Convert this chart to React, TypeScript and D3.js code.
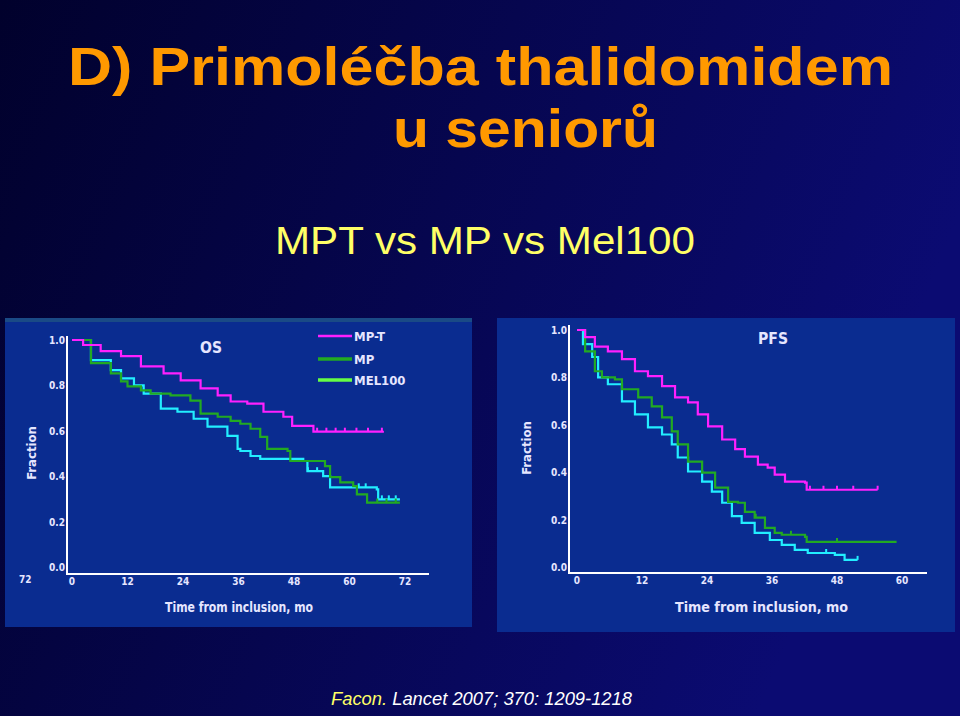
import React from "react";
import * as d3 from "d3";

// ---------- data (months, survival fraction) ----------
const osMonthsTicks = [0, 12, 24, 36, 48, 60, 72];
const pfsMonthsTicks = [0, 12, 24, 36, 48, 60];
const fractionTicks = [1.0, 0.8, 0.6, 0.4, 0.2, 0.0];

const osMPT: [number, number][] = [
  [0, 1.0], [2.4, 0.978], [6.2, 0.951], [10.6, 0.929], [14.9, 0.884], [19.8, 0.853],
  [23.5, 0.822], [27.8, 0.787], [31.5, 0.756], [34.3, 0.729], [37.9, 0.72], [41.4, 0.684],
  [45.7, 0.662], [47.6, 0.622], [52.2, 0.596], [67.2, 0.6],
];
const osMP: [number, number][] = [
  [0, 1.0], [4.1, 0.898], [8.4, 0.853], [10.6, 0.818], [12, 0.796], [14.9, 0.778],
  [17, 0.764], [21.3, 0.756], [25.6, 0.733], [27.8, 0.676], [31.5, 0.662], [34.3, 0.644],
  [36.4, 0.631], [38.6, 0.609], [40.7, 0.573], [42.2, 0.52], [46.6, 0.511], [47.2, 0.467],
  [54.7, 0.444], [55.8, 0.396], [58, 0.373], [60.8, 0.356], [61.6, 0.32], [63.8, 0.284],
  [70.9, 0.284],
];
const osMEL: [number, number][] = [
  [0, 1.0], [4.1, 0.911], [8.4, 0.867], [10.6, 0.831], [13.4, 0.8], [15.5, 0.764],
  [19.2, 0.698], [22.8, 0.684], [26.3, 0.653], [29.3, 0.618], [33.6, 0.578], [35.8, 0.52],
  [36.4, 0.511], [38.6, 0.489], [40.7, 0.476], [50, 0.467], [50.9, 0.422], [54.3, 0.4],
  [55.8, 0.351], [65.9, 0.342], [66.2, 0.298], [70.9, 0.298],
];

const pfsMPT: [number, number][] = [
  [0, 1.0], [1.5, 0.97], [3.3, 0.93], [5.7, 0.91], [8.3, 0.877], [10.7, 0.826],
  [13.1, 0.805], [15.7, 0.763], [18.1, 0.716], [20.5, 0.695], [22.3, 0.644], [24.2, 0.593],
  [26.8, 0.538], [29.2, 0.497], [31, 0.466], [33.4, 0.432], [35.2, 0.419], [36.5, 0.39],
  [38.4, 0.36], [42.1, 0.356], [42.4, 0.326], [55.5, 0.326],
];
const pfsMP: [number, number][] = [
  [0, 1.0], [1.5, 0.91], [3.3, 0.826], [4.6, 0.8], [7, 0.792], [8.3, 0.75],
  [11.3, 0.716], [13.8, 0.678], [15.7, 0.631], [17.5, 0.572], [18.6, 0.517], [20.5, 0.445],
  [23.1, 0.398], [25.5, 0.335], [27.9, 0.275], [29.7, 0.271], [31, 0.233], [32.8, 0.208],
  [34.7, 0.165], [36.5, 0.144], [37.8, 0.136], [42.1, 0.127], [42.4, 0.106], [59, 0.106],
];
const pfsMEL: [number, number][] = [
  [0, 1.0], [1.1, 0.94], [2.8, 0.886], [3.9, 0.8], [5.7, 0.771], [8.3, 0.699],
  [10.7, 0.644], [13.1, 0.589], [15.7, 0.559], [17.5, 0.517], [18.6, 0.462], [20.5, 0.403],
  [23.1, 0.36], [24.9, 0.318], [26.8, 0.271], [28.6, 0.215], [30.4, 0.186], [32.8, 0.144],
  [35.6, 0.114], [37.8, 0.093], [40.2, 0.072], [42.6, 0.059], [47.6, 0.051], [49.4, 0.03],
  [51.8, 0.03],
];

// censoring marks (months)
const osMPTCens = [53, 55, 57, 59, 61.5, 64, 67];
const osMPCens = [66, 68, 70];
const osMELCens = [51, 53, 62, 63.5, 67, 68.5, 70];
const pfsMPTCens = [43, 45.5, 48, 51, 55.5];
const pfsMPCens = [33, 39.5, 48];
const pfsMELCens = [46, 51.8];

const legendLabels = ["MP-T", "MP", "MEL100"];

// ---------- styles ----------
const C_MPT = "#ff20ff";
const C_MP = "#22aa22";
const C_MEL = "#22eeff";
const LEGEND_COLORS = [C_MPT, C_MP, "#66ff44"];
const PANEL = "#0a2c90";
const AX = "#ffffff";
const LBL = "#e6e6ff";
const SANS = "'Liberation Sans', Arial, sans-serif";
const COND = "'DejaVu Sans Condensed', 'Liberation Sans Narrow', sans-serif";

type Panel = {
  x0: number; x1: number; axisX: number; axisTop: number; axisY: number; axisRight: number;
  y1: number; y0: number; dom: number; ticks: number[];
};

function stepValue(data: [number, number][], t: number) {
  let v = data[0][1];
  for (const d of data) if (d[0] <= t) v = d[1];
  return v;
}

function KMPlot({ p, series, title, titleX, titleBase, titleW, xTitleX, xTitleW, fracX, fracY }: any) {
  const x = d3.scaleLinear().domain([0, p.dom]).range([p.x0, p.x1]);
  const y = d3.scaleLinear().domain([0, 1]).range([p.y0, p.y1]);
  const line = d3.line<[number, number]>().x((d) => x(d[0])).y((d) => y(d[1])).curve(d3.curveStepAfter);
  return (
    <g>
      <line x1={p.axisX} x2={p.axisX} y1={p.axisTop} y2={p.axisY + 1} stroke={AX} strokeWidth={2} />
      <line x1={p.axisX} x2={p.axisRight} y1={p.axisY} y2={p.axisY} stroke={AX} strokeWidth={2} />
      {fractionTicks.map((t) => (
        <text key={t} x={p.axisX - 2} y={y(t) + 4} fill={LBL} fontSize={10} fontWeight="bold"
          fontFamily={COND} textAnchor="end">{t.toFixed(1)}</text>
      ))}
      {p.ticks.map((t: number) => (
        <text key={t} x={x(t)} y={p.axisY + 11} fill={LBL} fontSize={10} fontWeight="bold"
          fontFamily={COND} textAnchor="middle">{t}</text>
      ))}
      <text x={fracX} y={fracY} fill={LBL} fontSize={13} fontWeight="bold" fontFamily={COND}
        textAnchor="middle" transform={`rotate(-90 ${fracX} ${fracY})`}>Fraction</text>
      <text x={xTitleX} y={612} fill={LBL} fontSize={14} fontWeight="bold" fontFamily={COND}
        textLength={xTitleW} lengthAdjust="spacingAndGlyphs">Time from inclusion, mo</text>
      <text x={titleX} y={titleBase} fill={LBL} fontSize={15} fontWeight="bold" fontFamily={COND}
        textLength={titleW} lengthAdjust="spacingAndGlyphs">{title}</text>
      {series.map((s: any, i: number) => (
        <g key={i}>
          <path d={line(s.data) || ""} fill="none" stroke={s.color} strokeWidth={2.2} />
          {s.cens.map((c: number, j: number) => {
            const yy = y(stepValue(s.data, c));
            return <line key={j} x1={x(c)} x2={x(c)} y1={yy - 4} y2={yy} stroke={s.color} strokeWidth={2} />;
          })}
        </g>
      ))}
    </g>
  );
}

export default function App() {
  const left: Panel = { x0: 72, x1: 405, axisX: 67, axisTop: 336, axisY: 574, axisRight: 429,
    y1: 340, y0: 567, dom: 72, ticks: osMonthsTicks };
  const right: Panel = { x0: 577, x1: 902, axisX: 569, axisTop: 325, axisY: 573, axisRight: 927,
    y1: 330, y0: 567, dom: 60, ticks: pfsMonthsTicks };

  return (
    <svg width={960} height={716} style={{ position: "absolute", left: 0, top: 0 }}>
      <defs>
        <linearGradient id="bg" x1="0" y1="0" x2="1" y2="0.3">
          <stop offset="0" stopColor="#01012c" />
          <stop offset="1" stopColor="#0b0b72" />
        </linearGradient>
      </defs>
      <rect x={0} y={0} width={960} height={716} fill="url(#bg)" />

      <text x={68} y={85} fill="#ff9900" fontSize={53} fontWeight="bold" fontFamily={SANS}
        textLength={825} lengthAdjust="spacingAndGlyphs">D)  Primoléčba thalidomidem</text>
      <text x={393} y={147} fill="#ff9900" fontSize={53} fontWeight="bold" fontFamily={SANS}
        textLength={265} lengthAdjust="spacingAndGlyphs">u seniorů</text>
      <text x={275} y={254} fill="#ffff66" fontSize={39} fontFamily={SANS}
        textLength={420} lengthAdjust="spacingAndGlyphs">MPT vs MP vs Mel100</text>

      <rect x={5} y={318} width={467} height={309} fill={PANEL} />
      <rect x={5} y={318} width={467} height={4} fill="#1a4a86" />
      <rect x={497} y={318} width={458} height={314} fill={PANEL} />

      <KMPlot p={left} title="OS" titleX={200} titleBase={353} titleW={22}
        xTitleX={165} xTitleW={148} fracX={36} fracY={453}
        series={[
          { data: osMEL, color: C_MEL, cens: osMELCens },
          { data: osMP, color: C_MP, cens: osMPCens },
          { data: osMPT, color: C_MPT, cens: osMPTCens },
        ]} />
      <text x={19} y={583} fill={LBL} fontSize={10} fontWeight="bold" fontFamily={COND}>72</text>

      <KMPlot p={right} title="PFS" titleX={758} titleBase={344} titleW={30}
        xTitleX={675} xTitleW={173} fracX={531} fracY={448}
        series={[
          { data: pfsMEL, color: C_MEL, cens: pfsMELCens },
          { data: pfsMP, color: C_MP, cens: pfsMPCens },
          { data: pfsMPT, color: C_MPT, cens: pfsMPTCens },
        ]} />

      {legendLabels.map((l, i) => {
        const yy = [336, 359, 380][i];
        return (
          <g key={l}>
            <line x1={318} x2={352} y1={yy} y2={yy} stroke={LEGEND_COLORS[i]} strokeWidth={i === 0 ? 2.5 : 3.5} />
            <text x={354} y={yy + 5} fill={LBL} fontSize={13} fontWeight="bold" fontFamily={COND}>{l}</text>
          </g>
        );
      })}

      <text x={331} y={705} fontSize={18} fontStyle="italic" fontFamily={SANS}
        textLength={301} lengthAdjust="spacingAndGlyphs">
        <tspan fill="#ffff66">Facon.</tspan>
        <tspan fill="#ffffff"> Lancet 2007; 370: 1209-1218</tspan>
      </text>
    </svg>
  );
}
